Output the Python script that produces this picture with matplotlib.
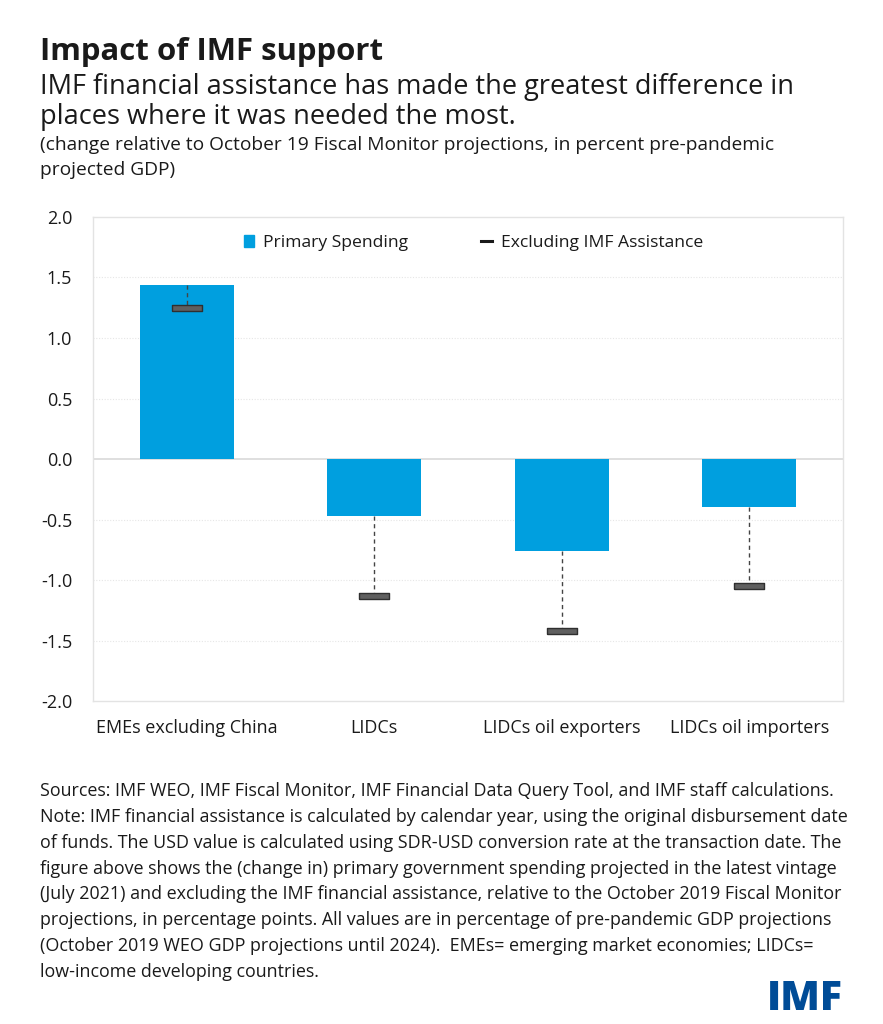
import matplotlib
matplotlib.use("Agg")
import matplotlib.pyplot as plt
from matplotlib.patches import Rectangle
from matplotlib.lines import Line2D

plt.rcParams['font.family'] = ['Open Sans', 'DejaVu Sans']

categories = ["EMEs excluding China", "LIDCs", "LIDCs oil exporters", "LIDCs oil importers"]
primary_spending = [1.44, -0.47, -0.76, -0.40]
excluding_imf = [1.25, -1.13, -1.42, -1.05]
yticks = [-2.0, -1.5, -1.0, -0.5, 0.0, 0.5, 1.0, 1.5, 2.0]

BLUE = "#009FDF"
TXT = "#1a1a1a"

fig = plt.figure(figsize=(8.83, 10.24), dpi=100)
ax = fig.add_axes([0.1053, 0.3154, 0.8494, 0.4727])

x = list(range(len(categories)))
ax.bar(x, primary_spending, width=0.5, color=BLUE, zorder=3, label="Primary Spending")
ax.vlines(x, primary_spending, excluding_imf, colors="#444444", linestyles=(0, (3, 2.5)),
          linewidth=1.0, zorder=4)
rect = [(-5, -1), (5, -1), (5, 1), (-5, 1), (-5, -1)]
ax.plot(x, excluding_imf, linestyle="none", marker=rect, markersize=22,
        markerfacecolor="#5f5f5f", markeredgecolor="#2f2f2f", markeredgewidth=1.0,
        zorder=5, label="Excluding IMF Assistance")

ax.set_xlim(-0.5, 3.5)
ax.set_ylim(-2.0, 2.0)
ax.set_yticks(yticks)
ax.set_yticklabels([f"{v:.1f}" for v in yticks])
ax.set_xticks(x)
ax.set_xticklabels(categories)
ax.tick_params(axis="both", length=0, labelsize=13.0, colors=TXT)
ax.tick_params(axis="y", pad=15)
ax.tick_params(axis="x", pad=13)
for s in ax.spines.values():
    s.set_color("#e3e3e3")
    s.set_linewidth(1.0)
for v in yticks:
    if v == 0:
        ax.axhline(0, color="#d9d9d9", linewidth=1.2, zorder=2)
    elif abs(v) < 2:
        ax.axhline(v, color="#e6e6e6", linewidth=0.8, linestyle=(0, (1, 1.5)), zorder=1)

handles = [Rectangle((0, 0), 1, 1, color=BLUE),
           Line2D([0], [0], color=TXT, linewidth=2.2)]
ax.legend(handles, ["Primary Spending", "Excluding IMF Assistance"], loc="upper center",
          bbox_to_anchor=(0.507, 0.995), ncol=2, frameon=False, fontsize=12.6,
          handlelength=0.6, handleheight=0.6, handletextpad=0.5, columnspacing=4.2,
          labelcolor=TXT)

fig.text(0.045, 0.949, "Impact of IMF support", fontsize=22.4, fontweight="bold", color=TXT, va="center")
fig.text(0.045, 0.900, "IMF financial assistance has made the greatest difference in\nplaces where it was needed the most.",
         fontsize=19.5, color=TXT, va="center", linespacing=1.095)
fig.text(0.045, 0.846, "(change relative to October 19 Fiscal Monitor projections, in percent pre-pandemic\nprojected GDP)",
         fontsize=13.75, color=TXT, va="center", linespacing=1.49)

notes = ("Sources: IMF WEO, IMF Fiscal Monitor, IMF Financial Data Query Tool, and IMF staff calculations.\n"
         "Note: IMF financial assistance is calculated by calendar year, using the original disbursement date\n"
         "of funds. The USD value is calculated using SDR-USD conversion rate at the transaction date. The\n"
         "figure above shows the (change in) primary government spending projected in the latest vintage\n"
         "(July 2021) and excluding the IMF financial assistance, relative to the October 2019 Fiscal Monitor\n"
         "projections, in percentage points. All values are in percentage of pre-pandemic GDP projections\n"
         "(October 2019 WEO GDP projections until 2024).  EMEs= emerging market economies; LIDCs=\n"
         "low-income developing countries.")
fig.text(0.045, 0.236, notes, fontsize=12.85, color=TXT, va="top", linespacing=1.555)

fig.text(0.955, 0.0137, "IMF", fontsize=29.5, fontweight="heavy", color="#004C97", ha="right", va="baseline")

fig.savefig("out.png", dpi=100, facecolor="white")
